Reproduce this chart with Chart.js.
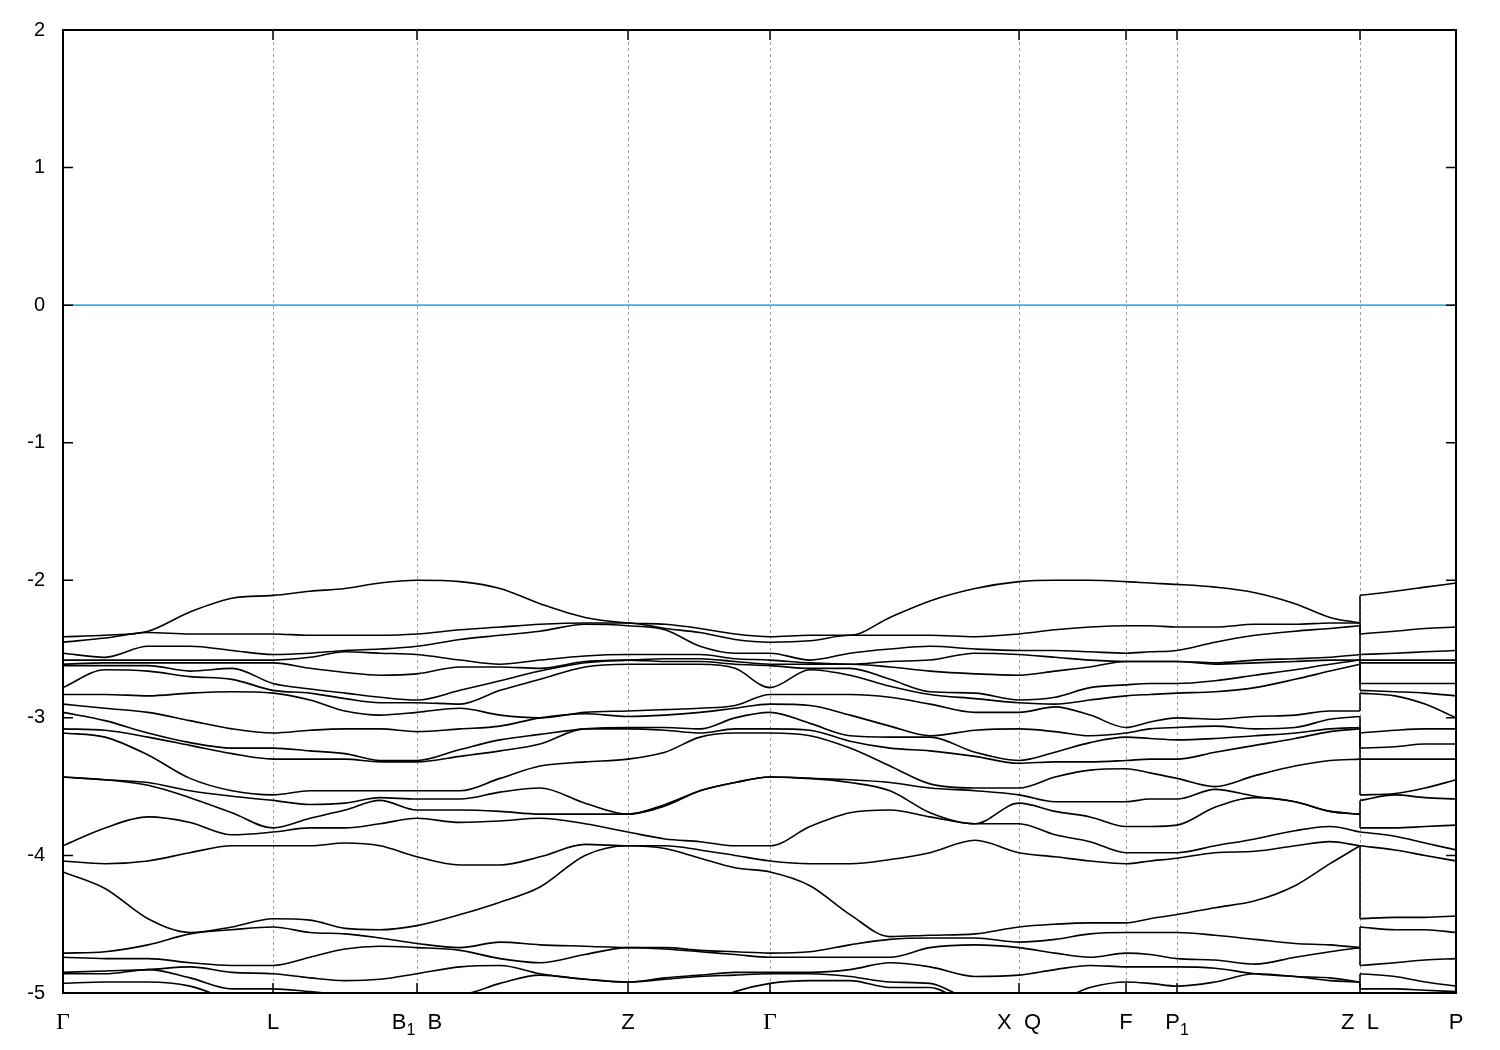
<!DOCTYPE html>
<html>
<head>
<meta charset="utf-8">
<script src="https://cdn.jsdelivr.net/npm/chart.js@4.4.1/dist/chart.umd.min.js"></script>
<style>
  html, body { margin: 0; background: #fff; }
  #wrap { width: 1500px; height: 1050px; }
</style>
</head>
<body>
<div id="wrap"><canvas id="bands"></canvas></div>
<script>
// k-path positions (Z and L share one position: the path jumps there)
const kPath = [0, 42, 85, 127, 169, 210, 247, 282, 317, 354, 397, 437, 477, 522, 565,
               602, 637, 672, 707, 747, 787, 827, 867, 912, 956, 992, 1027, 1063, 1087, 1114,
               1152, 1192, 1232, 1267, 1297, 1297, 1332, 1362, 1393];
const kTicks = [0, 210, 354, 565, 707, 956, 1063, 1114, 1297, 1393];
const kLabels = ['Γ', 'L', 'B_1 B', 'Z', 'Γ', 'X Q', 'F', 'P_1', 'Z L', 'P'];
const yTicks = [-5, -4, -3, -2, -1, 0, 1, 2];

// bands in eV, counted from the top at each k point
const band01 = [-2.41, -2.40, -2.37, -2.23, -2.13, -2.11, -2.08, -2.06, -2.02, -2.00, -2.01, -2.06, -2.17, -2.27, -2.31, -2.32, -2.35, -2.39, -2.41, -2.40, -2.40, -2.27, -2.15, -2.06, -2.01, -2.00, -2.00, -2.01, -2.02, -2.03, -2.05, -2.09, -2.17, -2.27, -2.31, -2.11, -2.08, -2.05, -2.02];
const band02 = [-2.45, -2.42, -2.38, -2.39, -2.39, -2.39, -2.40, -2.40, -2.40, -2.39, -2.36, -2.34, -2.32, -2.31, -2.31, -2.35, -2.38, -2.43, -2.45, -2.44, -2.40, -2.40, -2.40, -2.41, -2.39, -2.36, -2.34, -2.33, -2.33, -2.34, -2.34, -2.32, -2.32, -2.31, -2.31, -2.39, -2.37, -2.35, -2.34];
const band03 = [-2.53, -2.56, -2.48, -2.48, -2.51, -2.54, -2.53, -2.51, -2.50, -2.48, -2.43, -2.40, -2.37, -2.32, -2.33, -2.36, -2.48, -2.53, -2.53, -2.58, -2.53, -2.50, -2.48, -2.50, -2.51, -2.51, -2.52, -2.53, -2.52, -2.51, -2.45, -2.40, -2.37, -2.35, -2.33, -2.54, -2.53, -2.52, -2.51];
const band04 = [-2.58, -2.58, -2.58, -2.58, -2.58, -2.58, -2.56, -2.52, -2.53, -2.54, -2.58, -2.61, -2.58, -2.55, -2.54, -2.54, -2.54, -2.57, -2.58, -2.60, -2.61, -2.59, -2.58, -2.53, -2.54, -2.56, -2.58, -2.59, -2.59, -2.59, -2.60, -2.58, -2.57, -2.56, -2.54, -2.58, -2.58, -2.58, -2.58];
const band05 = [-2.61, -2.60, -2.60, -2.60, -2.60, -2.60, -2.64, -2.67, -2.69, -2.68, -2.63, -2.63, -2.64, -2.59, -2.58, -2.57, -2.57, -2.59, -2.61, -2.61, -2.61, -2.63, -2.66, -2.68, -2.69, -2.66, -2.63, -2.59, -2.59, -2.59, -2.61, -2.60, -2.59, -2.58, -2.58, -2.60, -2.60, -2.60, -2.60];
const band06 = [-2.62, -2.62, -2.62, -2.66, -2.64, -2.75, -2.79, -2.82, -2.85, -2.87, -2.80, -2.73, -2.66, -2.60, -2.58, -2.59, -2.59, -2.61, -2.62, -2.64, -2.64, -2.72, -2.81, -2.82, -2.87, -2.85, -2.78, -2.76, -2.75, -2.75, -2.73, -2.69, -2.65, -2.61, -2.58, -2.75, -2.75, -2.75, -2.75];
const band07 = [-2.78, -2.65, -2.66, -2.70, -2.72, -2.80, -2.82, -2.86, -2.89, -2.89, -2.90, -2.80, -2.72, -2.63, -2.61, -2.61, -2.61, -2.64, -2.78, -2.65, -2.69, -2.77, -2.83, -2.86, -2.89, -2.90, -2.87, -2.84, -2.83, -2.82, -2.81, -2.78, -2.72, -2.66, -2.61, -2.80, -2.81, -2.82, -2.84];
const band08 = [-2.83, -2.83, -2.84, -2.82, -2.81, -2.82, -2.87, -2.95, -2.98, -2.96, -2.93, -2.98, -3.00, -2.96, -2.95, -2.94, -2.93, -2.91, -2.83, -2.83, -2.83, -2.85, -2.90, -2.96, -2.96, -2.92, -2.98, -3.07, -3.03, -3.00, -3.01, -2.99, -2.98, -2.95, -2.95, -2.82, -2.84, -2.90, -3.00];
const band09 = [-2.90, -2.93, -2.96, -3.02, -3.08, -3.11, -3.09, -3.08, -3.08, -3.10, -3.08, -3.06, -3.00, -2.97, -2.99, -2.98, -2.96, -2.93, -2.90, -2.91, -2.98, -3.06, -3.13, -3.09, -3.08, -3.10, -3.13, -3.11, -3.08, -3.07, -3.06, -3.08, -3.07, -3.01, -2.99, -3.11, -3.09, -3.08, -3.08];
const band10 = [-2.96, -3.02, -3.11, -3.18, -3.22, -3.22, -3.24, -3.26, -3.31, -3.31, -3.23, -3.16, -3.12, -3.08, -3.07, -3.07, -3.08, -3.00, -2.96, -3.04, -3.13, -3.14, -3.14, -3.25, -3.31, -3.25, -3.18, -3.14, -3.15, -3.16, -3.15, -3.13, -3.11, -3.08, -3.07, -3.22, -3.21, -3.19, -3.19];
const band11 = [-3.08, -3.09, -3.14, -3.20, -3.26, -3.30, -3.30, -3.30, -3.32, -3.32, -3.28, -3.24, -3.19, -3.08, -3.08, -3.09, -3.11, -3.08, -3.08, -3.09, -3.17, -3.22, -3.24, -3.28, -3.33, -3.32, -3.32, -3.31, -3.30, -3.30, -3.25, -3.20, -3.15, -3.10, -3.08, -3.30, -3.30, -3.30, -3.30];
const band12 = [-3.11, -3.14, -3.27, -3.44, -3.53, -3.56, -3.53, -3.53, -3.53, -3.53, -3.53, -3.44, -3.35, -3.32, -3.30, -3.25, -3.14, -3.11, -3.11, -3.13, -3.22, -3.35, -3.48, -3.51, -3.51, -3.43, -3.38, -3.37, -3.40, -3.44, -3.50, -3.42, -3.35, -3.31, -3.30, -3.56, -3.55, -3.51, -3.45];
const band13 = [-3.43, -3.45, -3.47, -3.53, -3.57, -3.60, -3.63, -3.62, -3.58, -3.59, -3.59, -3.54, -3.51, -3.62, -3.70, -3.63, -3.53, -3.47, -3.43, -3.44, -3.45, -3.47, -3.51, -3.53, -3.56, -3.61, -3.61, -3.61, -3.59, -3.59, -3.52, -3.57, -3.61, -3.68, -3.70, -3.60, -3.56, -3.58, -3.59];
const band14 = [-3.43, -3.45, -3.49, -3.58, -3.69, -3.80, -3.73, -3.67, -3.60, -3.67, -3.67, -3.68, -3.70, -3.70, -3.70, -3.64, -3.53, -3.47, -3.43, -3.44, -3.47, -3.53, -3.69, -3.77, -3.62, -3.68, -3.72, -3.79, -3.79, -3.78, -3.65, -3.58, -3.61, -3.68, -3.70, -3.80, -3.80, -3.79, -3.78];
const band15 = [-3.93, -3.80, -3.72, -3.76, -3.85, -3.83, -3.80, -3.80, -3.77, -3.73, -3.76, -3.75, -3.73, -3.77, -3.83, -3.88, -3.90, -3.93, -3.93, -3.79, -3.69, -3.67, -3.72, -3.77, -3.77, -3.85, -3.90, -3.98, -3.98, -3.98, -3.93, -3.88, -3.82, -3.79, -3.83, -3.83, -3.86, -3.91, -3.96];
const band16 = [-4.04, -4.06, -4.04, -3.98, -3.93, -3.93, -3.93, -3.91, -3.93, -4.01, -4.07, -4.07, -4.01, -3.92, -3.93, -3.93, -3.96, -4.00, -4.04, -4.06, -4.06, -4.03, -3.98, -3.89, -3.98, -4.01, -4.04, -4.06, -4.04, -4.02, -3.98, -3.97, -3.93, -3.90, -3.93, -3.93, -3.96, -4.00, -4.04];
const band17 = [-4.12, -4.24, -4.46, -4.56, -4.52, -4.46, -4.47, -4.53, -4.54, -4.51, -4.43, -4.34, -4.23, -4.00, -3.93, -3.95, -4.02, -4.09, -4.12, -4.22, -4.43, -4.59, -4.58, -4.57, -4.52, -4.50, -4.49, -4.49, -4.46, -4.43, -4.38, -4.33, -4.22, -4.06, -3.93, -4.46, -4.45, -4.45, -4.44];
const band18 = [-4.71, -4.70, -4.65, -4.57, -4.54, -4.52, -4.56, -4.57, -4.60, -4.64, -4.67, -4.63, -4.65, -4.66, -4.67, -4.67, -4.69, -4.70, -4.71, -4.70, -4.65, -4.61, -4.60, -4.60, -4.63, -4.61, -4.57, -4.56, -4.56, -4.56, -4.58, -4.61, -4.64, -4.65, -4.67, -4.52, -4.54, -4.54, -4.56];
const band19 = [-4.74, -4.75, -4.75, -4.78, -4.80, -4.80, -4.74, -4.68, -4.66, -4.67, -4.69, -4.75, -4.78, -4.72, -4.67, -4.68, -4.70, -4.72, -4.74, -4.74, -4.74, -4.74, -4.67, -4.65, -4.67, -4.71, -4.74, -4.71, -4.72, -4.75, -4.76, -4.79, -4.74, -4.70, -4.67, -4.80, -4.78, -4.76, -4.75];
const band20 = [-4.85, -4.84, -4.83, -4.81, -4.85, -4.86, -4.89, -4.91, -4.90, -4.86, -4.81, -4.80, -4.86, -4.90, -4.92, -4.89, -4.87, -4.85, -4.85, -4.85, -4.83, -4.78, -4.81, -4.88, -4.87, -4.83, -4.80, -4.81, -4.81, -4.81, -4.82, -4.86, -4.88, -4.89, -4.92, -4.86, -4.88, -4.92, -4.95];
const band21 = [-4.86, -4.86, -4.83, -4.89, -4.97, -4.97, -4.99, -5.01, -5.01, -5.01, -5.01, -4.93, -4.87, -4.90, -4.92, -4.90, -4.88, -4.87, -4.86, -4.86, -4.88, -4.92, -4.93, -5.05, -5.05, -5.05, -4.96, -4.92, -4.93, -4.95, -4.92, -4.86, -4.88, -4.91, -4.92, -4.97, -4.97, -4.98, -4.99];
const band22 = [-4.93, -4.92, -4.92, -4.95, -5.05, -5.09, -5.09, -5.09, -5.09, -5.09, -5.09, -5.09, -5.09, -5.09, -5.09, -5.09, -5.09, -4.99, -4.93, -4.91, -4.91, -4.96, -4.96, -5.09, -5.09, -5.09, -5.09, -5.09, -5.09, -5.09, -5.09, -5.09, -5.09, -5.09, -5.09, -5.09, -5.09, -5.09, -5.09];

const allBands = [band01, band02, band03, band04, band05, band06, band07, band08, band09, band10, band11,
                  band12, band13, band14, band15, band16, band17, band18, band19, band20, band21, band22];

// split each band at the Z|L jump: main path, tail, and the vertical connector
const jump = kPath.findIndex((k, i) => i > 0 && k === kPath[i - 1]);
const datasets = [];
allBands.forEach(b => {
    const pts = kPath.map((k, i) => ({ x: k, y: b[i] }));
    [pts.slice(0, jump), pts.slice(jump), [pts[jump - 1], pts[jump]]].forEach(d => {
        datasets.push({
            data: d,
            borderColor: '#000',
            borderWidth: 1.6,
            pointRadius: 0,
            cubicInterpolationMode: 'monotone',
            fill: false
        });
    });
});

// dashed lines, zero line, frame, inner ticks and k labels
const decor = {
    id: 'decor',
    beforeDatasetsDraw(chart) {
        const { ctx, chartArea: a, scales: { x, y } } = chart;
        ctx.save();
        ctx.strokeStyle = '#a0a0a0';
        ctx.lineWidth = 1;
        ctx.setLineDash([3, 3]);
        kTicks.forEach(k => {
            const px = Math.round(x.getPixelForValue(k)) + 0.5;
            ctx.beginPath(); ctx.moveTo(px, a.top); ctx.lineTo(px, a.bottom); ctx.stroke();
        });
        ctx.setLineDash([]);
        ctx.strokeStyle = '#4aa8e0';
        ctx.lineWidth = 1.6;
        const zy = y.getPixelForValue(0);
        ctx.beginPath(); ctx.moveTo(a.left, zy); ctx.lineTo(a.right, zy); ctx.stroke();
        ctx.restore();
    },
    afterDatasetsDraw(chart) {
        const { ctx, chartArea: a, scales: { x, y } } = chart;
        ctx.save();
        ctx.strokeStyle = '#000';
        ctx.lineWidth = 2;
        ctx.strokeRect(a.left, a.top, a.right - a.left, a.bottom - a.top);
        ctx.lineWidth = 1.5;
        yTicks.forEach(v => {
            const py = y.getPixelForValue(v);
            ctx.beginPath();
            ctx.moveTo(a.left, py); ctx.lineTo(a.left + 10, py);
            ctx.moveTo(a.right, py); ctx.lineTo(a.right - 10, py);
            ctx.stroke();
        });
        kTicks.forEach(k => {
            const px = x.getPixelForValue(k);
            ctx.beginPath();
            ctx.moveTo(px, a.bottom); ctx.lineTo(px, a.bottom - 10);
            ctx.moveTo(px, a.top); ctx.lineTo(px, a.top + 10);
            ctx.stroke();
        });
        // labels: "_1" is a subscript, Γ in a serif face
        ctx.fillStyle = '#000';
        ctx.textBaseline = 'alphabetic';
        ctx.textAlign = 'left';
        kLabels.forEach((lab, i) => {
            const parts = [];
            lab.split(/(_\d)/).filter(s => s).forEach(s => {
                if (s[0] === '_') parts.push({ t: s.slice(1), f: '16px "Liberation Sans"', dy: 6 });
                else if (s === 'Γ') parts.push({ t: s, f: '24px "Liberation Serif"', dy: 0 });
                else parts.push({ t: s.replace(' ', '  '), f: '22px "Liberation Sans"', dy: 0 });
            });
            let w = 0;
            parts.forEach(p => { ctx.font = p.f; p.w = ctx.measureText(p.t).width; w += p.w; });
            let cx = x.getPixelForValue(kTicks[i]) - w / 2;
            parts.forEach(p => {
                ctx.font = p.f;
                ctx.fillText(p.t, cx, 1029 + p.dy);
                cx += p.w;
            });
        });
        ctx.restore();
    }
};

new Chart(document.getElementById('bands'), {
    type: 'line',
    data: { datasets },
    options: {
        responsive: true,
        maintainAspectRatio: false,
        animation: false,
        layout: { padding: { top: 28, right: 44, left: 0, bottom: 0 } },
        plugins: { legend: { display: false }, tooltip: { enabled: false } },
        scales: {
            x: {
                type: 'linear',
                min: 0,
                max: 1393,
                grid: { display: false },
                border: { display: false },
                ticks: { display: false },
                afterFit: s => { s.height = 57; }
            },
            y: {
                min: -5,
                max: 2,
                grid: { display: false, drawTicks: false },
                border: { display: false },
                ticks: {
                    stepSize: 1,
                    padding: 18,
                    color: '#000',
                    font: { family: 'Liberation Sans', size: 20 }
                },
                afterFit: s => { s.width = 63; }
            }
        }
    },
    plugins: [decor]
});
</script>
</body>
</html>
